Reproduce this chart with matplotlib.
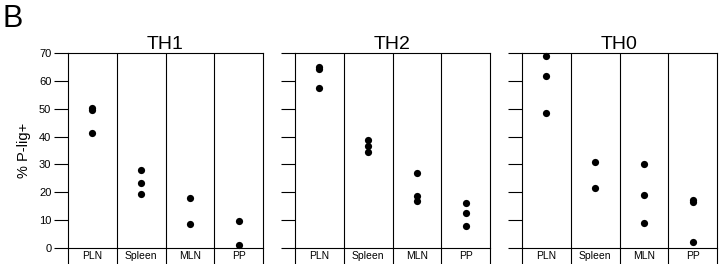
import matplotlib
matplotlib.use("Agg")
import matplotlib.pyplot as plt

plt.rcParams["font.family"] = ["Liberation Sans", "DejaVu Sans"]

# Tissue categories (columns in each panel)
tissues = ["PLN", "Spleen", "MLN", "PP"]
panels = ["TH1", "TH2", "TH0"]

# % P-lig+ per tissue
th1_pln = [50.1, 49.4, 41.3]
th1_spleen = [28.1, 23.2, 19.4]
th1_mln = [18.1, 8.7]
th1_pp = [9.8, 1.0]

th2_pln = [64.9, 64.1, 57.4]
th2_spleen = [38.7, 36.6, 34.5]
th2_mln = [26.8, 18.7, 16.8]
th2_pp = [16.2, 12.5, 8.0]

th0_pln = [68.9, 61.9, 48.3]
th0_spleen = [31.0, 21.5]
th0_mln = [30.2, 18.9, 8.8]
th0_pp = [17.4, 16.4, 2.2]

yticks = [0, 10, 20, 30, 40, 50, 60, 70]

data = {
    "TH1": [th1_pln, th1_spleen, th1_mln, th1_pp],
    "TH2": [th2_pln, th2_spleen, th2_mln, th2_pp],
    "TH0": [th0_pln, th0_spleen, th0_mln, th0_pp],
}

fig = plt.figure(figsize=(7.2, 2.64), dpi=100)
lefts = [68 / 720, 295 / 720, 522 / 720]
w = 195 / 720
bottom = 1 - 248 / 264
h = 195 / 264
lw = 0.8

for i, (name, left) in enumerate(zip(panels, lefts)):
    ax = fig.add_axes([left, bottom, w, h])
    for j, vals in enumerate(data[name]):
        ax.plot([j + 0.5] * len(vals), vals, "o", color="black", ms=5.2,
                mew=0, clip_on=False)
    ax.set_xlim(0, 4)
    ax.set_ylim(0, 70)
    for x in (1, 2, 3):
        ax.axvline(x, color="black", lw=lw)
    for sp in ax.spines.values():
        sp.set_linewidth(lw)
    # column boundary ticks below the axis, labels centred in columns
    ax.set_xticks([0, 1, 2, 3, 4])
    ax.set_xticklabels([])
    ax.set_xticks([0.5, 1.5, 2.5, 3.5], minor=True)
    ax.set_xticklabels(tissues, minor=True, fontsize=7.5)
    ax.tick_params(axis="x", which="major", direction="out", length=12, width=lw)
    ax.tick_params(axis="x", which="minor", length=0, pad=2)
    ax.set_yticks(yticks)
    ax.tick_params(axis="y", direction="out", length=10, width=lw,
                   labelsize=8, pad=2)
    if i == 0:
        ax.set_ylabel("% P-lig+", fontsize=10.5, labelpad=6)
    else:
        ax.set_yticklabels([])
    ax.set_title(name, fontsize=14, pad=3)

fig.text(0.003, 0.985, "B", fontsize=22, ha="left", va="top")

fig.savefig("out.png", dpi=100)
